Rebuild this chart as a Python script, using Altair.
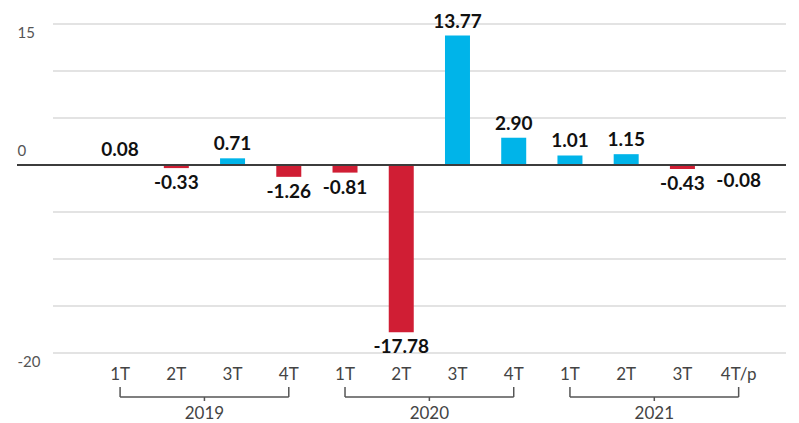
import altair as alt
import pandas as pd

years = ["2019", "2019", "2019", "2019", "2020", "2020", "2020", "2020", "2021", "2021", "2021", "2021"]
quarters = ["1T", "2T", "3T", "4T", "1T", "2T", "3T", "4T", "1T", "2T", "3T", "4T/p"]
values = [0.08, -0.33, 0.71, -1.26, -0.81, -17.78, 13.77, 2.90, 1.01, 1.15, -0.43, -0.08]
grid_values = [15, 10, 5, -5, -10, -15, -20]
axis_labels = ["15", "0", "-20"]
axis_label_values = [15, 0, -20]
year_names = ["2019", "2020", "2021"]

df = pd.DataFrame({
    "idx": list(range(len(values))),
    "year": years,
    "quarter": quarters,
    "value": values,
    "base": [0] * len(values),
    "label": [f"{v:.2f}" for v in values],
})
df["sign"] = ["pos" if v >= 0 else "neg" for v in values]

yr = pd.DataFrame({
    "year": year_names,
    "start": [int(df[df.year == y].idx.min()) for y in year_names],
    "end": [int(df[df.year == y].idx.max()) for y in year_names],
})
yr["mid"] = (yr["start"] + yr["end"]) / 2

ylab = pd.DataFrame({"t": axis_label_values, "txt": axis_labels})

W, H = 743, 345
XMIN, XMAX = -1.193, 11.842
YMIN, YMAX = -20, 16.7
xs = alt.Scale(domain=[XMIN, XMAX], nice=False, zero=False)
ys = alt.Scale(domain=[YMIN, YMAX], nice=False, zero=False)
BLUE = "#00b4e9"
RED = "#d01e34"
FONT = "Lato"

# positions outside the plot area, expressed in scale units
X_LEFT = XMIN - 36 / 57.0
Y_QLAB = YMAX - 367 / 9.4
Y_BR = YMAX - 389 / 9.4
Y_BR_TOP = YMAX - 379 / 9.4
Y_BR_MID = YMAX - 393 / 9.4
Y_YEAR = YMAX - 406 / 9.4


def X(*a, **k):
    return alt.X(*a, scale=xs, axis=None, **k)


def Y(*a, **k):
    return alt.Y(*a, scale=ys, axis=None, **k)


grid = alt.Chart(pd.DataFrame({"g": grid_values})).mark_rule(
    color="#dadada", strokeWidth=1.5
).encode(y=Y("g:Q"), x=X(datum=XMIN), x2=alt.X2(datum=XMAX))

ylab_top = alt.Chart(ylab).transform_filter("datum.t != 0").mark_text(
    align="left", baseline="top", dy=2, fontSize=15, font=FONT, color="#555555"
).encode(y=Y("t:Q"), x=X(datum=X_LEFT), text="txt:N")

ylab_zero = alt.Chart(ylab).transform_filter("datum.t == 0").mark_text(
    align="left", baseline="bottom", dy=-6, fontSize=15, font=FONT, color="#555555"
).encode(y=Y("t:Q"), x=X(datum=X_LEFT), text="txt:N")

base = alt.Chart(df)

bars = base.mark_bar(size=25, orient="vertical").encode(
    x=X("idx:Q"),
    y=Y("value:Q"),
    y2="base:Q",
    color=alt.Color("sign:N", scale=alt.Scale(domain=["pos", "neg"], range=[BLUE, RED]), legend=None),
)

zero = base.mark_rule(color="#3c3c3c", strokeWidth=2).encode(
    y=Y("base:Q"), x=X(datum=X_LEFT), x2=alt.X2(datum=XMAX)
)

pos_lab = base.transform_filter("datum.value >= 0").mark_text(
    baseline="bottom", dy=-4, fontSize=19, fontWeight="bold", font=FONT, color="#111111"
).encode(x=X("idx:Q"), y=Y("value:Q"), text="label:N")

neg_lab = base.transform_filter("datum.value < 0").mark_text(
    baseline="top", dy=6, fontSize=19, fontWeight="bold", font=FONT, color="#111111"
).encode(x=X("idx:Q"), y=Y("value:Q"), text="label:N")

q_lab = base.mark_text(
    baseline="middle", fontSize=17, font=FONT, color="#444444"
).encode(x=X("idx:Q"), y=Y(datum=Y_QLAB), text="quarter:N")

ybase = alt.Chart(yr)
bracket_h = ybase.mark_rule(color="#555555", strokeWidth=1.5).encode(
    x=X("start:Q"), x2="end:Q", y=Y(datum=Y_BR)
)
bracket_l = ybase.mark_rule(color="#555555", strokeWidth=1.5).encode(
    x=X("start:Q"), y=Y(datum=Y_BR_TOP), y2=alt.Y2(datum=Y_BR)
)
bracket_r = ybase.mark_rule(color="#555555", strokeWidth=1.5).encode(
    x=X("end:Q"), y=Y(datum=Y_BR_TOP), y2=alt.Y2(datum=Y_BR)
)
bracket_m = ybase.mark_rule(color="#555555", strokeWidth=1.5).encode(
    x=X("mid:Q"), y=Y(datum=Y_BR), y2=alt.Y2(datum=Y_BR_MID)
)
year_lab = ybase.mark_text(
    baseline="middle", fontSize=17, font=FONT, color="#444444"
).encode(x=X("mid:Q"), y=Y(datum=Y_YEAR), text="year:N")

chart = alt.layer(
    grid, ylab_top, ylab_zero, bars, zero, pos_lab, neg_lab, q_lab,
    bracket_h, bracket_l, bracket_r, bracket_m, year_lab
).properties(
    width=W, height=H,
    autosize=alt.AutoSizeParams(type="none"),
    padding={"left": 40, "top": 0, "right": 0, "bottom": 70},
).configure_view(stroke=None)

chart.save("out.html", embed_options={"renderer": "svg", "actions": False})
